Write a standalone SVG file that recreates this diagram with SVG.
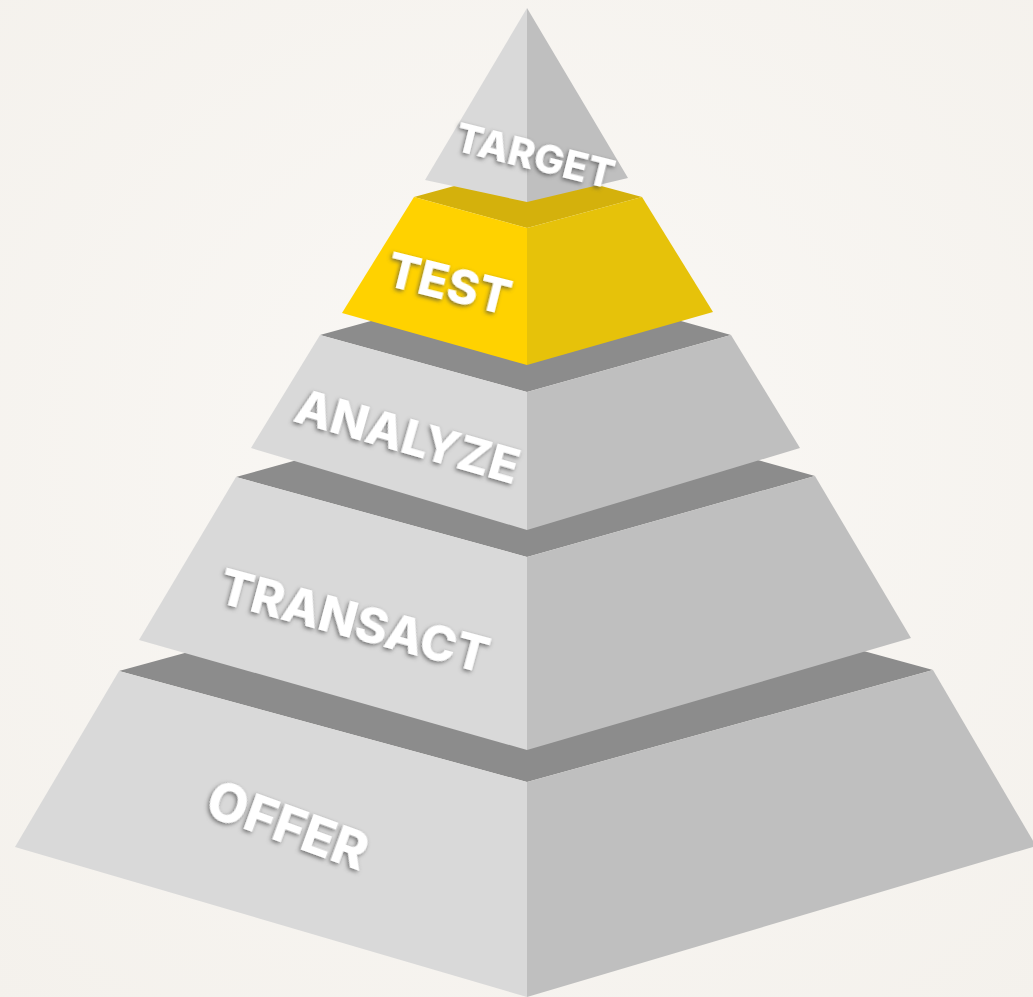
<svg xmlns="http://www.w3.org/2000/svg" width="1033" height="997" viewBox="0 0 1033 997">
  <defs>
    <radialGradient id="bg" cx="50%" cy="45%" r="75%">
      <stop offset="0" stop-color="#FAF8F5"/>
      <stop offset="1" stop-color="#F4F1EC"/>
    </radialGradient>
    <filter id="txtShadow" x="-20%" y="-40%" width="140%" height="180%">
      <feGaussianBlur in="SourceAlpha" stdDeviation="2"/>
      <feOffset dx="-1" dy="2" result="blur"/>
      <feFlood flood-color="#4a4a4a" flood-opacity="0.75"/>
      <feComposite in2="blur" operator="in" result="shadow"/>
      <feMerge>
        <feMergeNode in="shadow"/>
        <feMergeNode in="SourceGraphic"/>
      </feMerge>
    </filter>
  </defs>
  <style>
    .top { fill: #8C8C8C; }
    .left { fill: #D9D9D9; }
    .right { fill: #BFBFBF; }
    .ytop { fill: #D4B10C; }
    .yleft { fill: #FFD200; }
    .yright { fill: #E6C20A; }
    .label { font-family: Inter, "Open Sans", "Liberation Sans", Arial, sans-serif; font-weight: 800; fill: #FFFFFF; filter: url(#txtShadow); }
  </style>

  <rect width="1033" height="997" fill="url(#bg)"/>

  <!-- bottom tier -->
  <g id="tier-offer">
    <polygon class="top" points="119,671 527,559 933,670 527,782"/>
    <polygon class="left" points="119,671 527,782 527,997 15,847"/>
    <polygon class="right" points="527,782 933,670 1036,846 527,997"/>
    <text class="label" font-size="52" transform="translate(203,814) rotate(20)">OFFER</text>
  </g>

  <g id="tier-transact">
    <polygon class="top" points="236,477 527,396 815,476 527,557"/>
    <polygon class="left" points="236,477 527,557 527,750 139,640"/>
    <polygon class="right" points="527,557 815,476 911,638 527,750"/>
    <text class="label" font-size="49" transform="translate(216,602) rotate(15)">TRANSACT</text>
  </g>

  <g id="tier-analyze">
    <polygon class="top" points="320,335 527,278 731,335 527,392"/>
    <polygon class="left" points="320,335 527,392 527,530 251,448"/>
    <polygon class="right" points="527,392 731,335 800,448 527,530"/>
    <text class="label" font-size="48" transform="translate(292,421) rotate(16)">ANALYZE</text>
  </g>

  <g id="tier-test">
    <polygon class="ytop" points="414,197 527,166 642,197 527,228"/>
    <polygon class="yleft" points="414,197 527,228 527,365 342,313"/>
    <polygon class="yright" points="527,228 642,197 713,312 527,365"/>
    <text class="label" font-size="48" transform="translate(384,285) rotate(14)">TEST</text>
  </g>

  <!-- apex -->
  <g id="tier-target">
    <polygon class="left" points="527,8 425,180 527,202"/>
    <polygon class="right" points="527,8 527,202 628,178"/>
    <text class="label" font-size="40" transform="translate(453,150) rotate(14)">TARGET</text>
  </g>
</svg>
